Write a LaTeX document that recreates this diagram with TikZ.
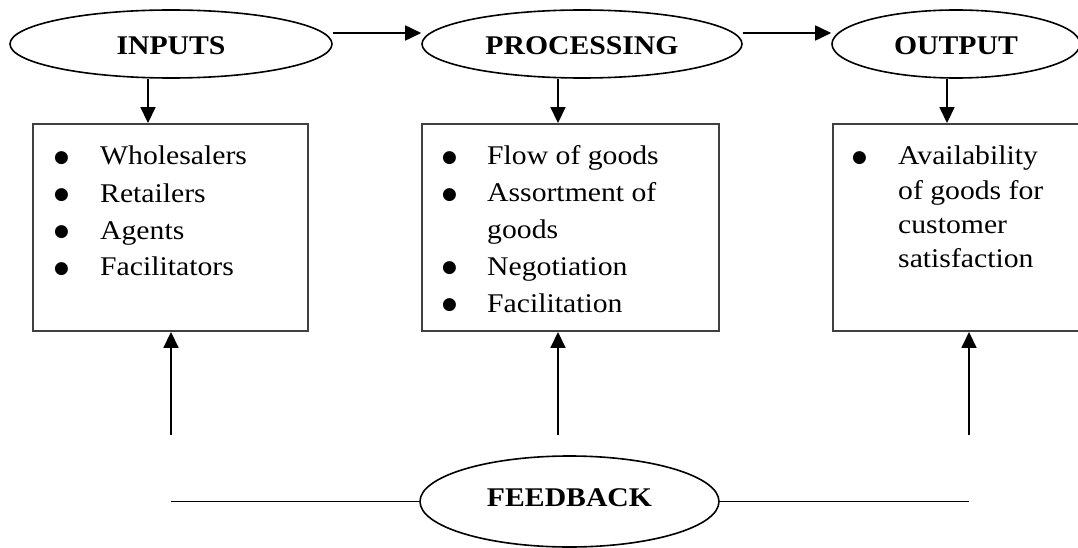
\documentclass[tikz,border=0pt]{standalone}
\usepackage{fontspec}
\setmainfont{Liberation Serif}[FakeStretch=1.1]
\newfontfamily\dotfont{DejaVu Sans}
\usetikzlibrary{shapes.geometric,arrows.meta,calc}
% bullet followed by a fixed indent
\newcommand\itembul[1]{\makebox[#1][l]{\raisebox{2.5pt}{\dotfont\fontsize{17}{17}\selectfont ●}}}
\begin{document}
\begin{tikzpicture}[x=1pt,y=-1pt,
  stage/.style={ellipse,draw,line width=1.6pt,inner sep=0pt,
    font=\fontsize{27}{30}\selectfont\bfseries,text height=22pt,text depth=0pt},
  listbox/.style={draw=black!75,line width=1.9pt,inner sep=0pt},
  items/.style={anchor=base west,inner sep=0pt},
  arr/.style={line width=1.7pt,-{Triangle[length=16pt,width=15pt]}},
  link/.style={line width=1.6pt},
]
\useasboundingbox (0,0) rectangle (1078,548);
\clip (0,0) rectangle (1078,548);

% stages
\node[stage,minimum width=322pt,minimum height=68pt] (in)   at (171,44)  {INPUTS};
\node[stage,minimum width=320pt,minimum height=68pt] (proc) at (582,44)  {PROCESSING};
\node[stage,minimum width=248pt,minimum height=68pt] (out)  at (956,44)  {OUTPUT};
\node[stage,minimum width=299pt,minimum height=91pt,text height=9pt] (fb) at (569.5,501.5) {FEEDBACK};

% boxes
\node[listbox,minimum width=275pt,minimum height=207pt] (inbox)   at (170.5,227.5) {};
\node[listbox,minimum width=297pt,minimum height=207pt] (procbox) at (570.5,227.5) {};
\node[listbox,minimum width=267pt,minimum height=207pt] (outbox)  at (966.5,227.5) {};

% item lists
\node[items,font=\fontsize{27}{37}\selectfont] (inlist) at (54,165)
  {\begin{tabular}[t]{@{}l@{}}
   \itembul{46pt}Wholesalers\\
   \itembul{46pt}Retailers\\
   \itembul{46pt}Agents\\
   \itembul{46pt}Facilitators
   \end{tabular}};
\node[items,font=\fontsize{27}{36.75}\selectfont] (proclist) at (442,165)
  {\begin{tabular}[t]{@{}l@{}}
   \itembul{45pt}Flow of goods\\
   \itembul{45pt}Assortment of\\
   \hspace*{45pt}goods\\
   \itembul{45pt}Negotiation\\
   \itembul{45pt}Facilitation
   \end{tabular}};
\node[items,font=\fontsize{27}{34.3}\selectfont] (outlist) at (852,165)
  {\begin{tabular}[t]{@{}l@{}}
   \itembul{46pt}Availability\\
   \hspace*{46pt}of goods for\\
   \hspace*{46pt}customer\\
   \hspace*{46pt}satisfaction
   \end{tabular}};

% flow between stages
\draw[arr] ($(in.east)+(0,-11)$) -- ($(proc.west)+(0,-11)$);
\draw[arr] ($(proc.east)+(0,-11)$) -- ($(out.west)+(0,-11)$);

% stage to box
\draw[arr] (148,0 |- in.south) -- (148,0 |- inbox.north);
\draw[arr] (558,0 |- proc.south) -- (558,0 |- procbox.north);
\draw[arr] (947,0 |- out.south) -- (947,0 |- outbox.north);

% feedback arrows
\coordinate (fin)   at (171,435);
\coordinate (fproc) at (558,435);
\coordinate (fout)  at (969,435);
\draw[arr] (fin)   -- (fin |- inbox.south);
\draw[arr] (fproc) -- (fproc |- procbox.south);
\draw[arr] (fout)  -- (fout |- outbox.south);

% feedback line
\coordinate (fbl) at (171,501.5);
\coordinate (fbr) at (969,501.5);
\draw[link] (fbl) -- (fb.west);
\draw[link] (fb.east) -- (fbr);
\end{tikzpicture}
\end{document}
